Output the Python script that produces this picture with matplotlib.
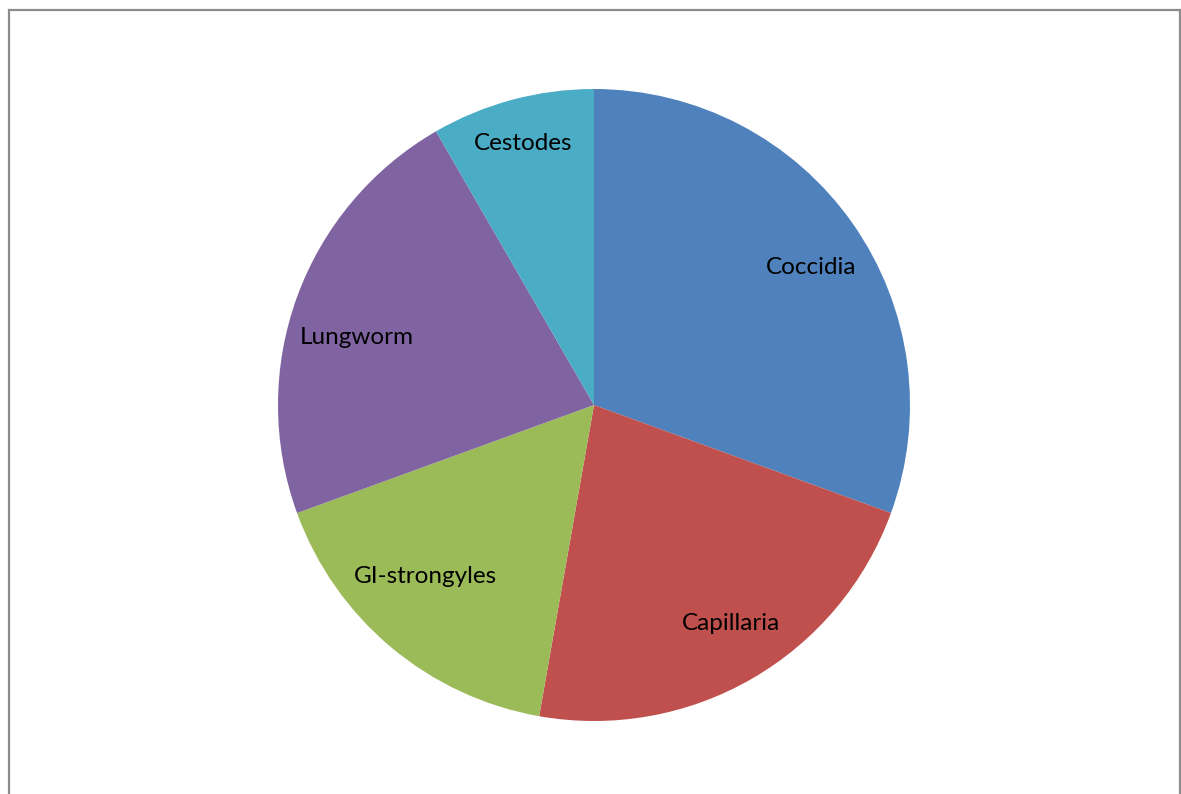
import matplotlib
matplotlib.use("Agg")
import matplotlib.pyplot as plt
from matplotlib.patches import Rectangle
import numpy as np

labels = ["Coccidia", "Capillaria", "GI-strongyles", "Lungworm", "Cestodes"]
counts = [11, 8, 6, 8, 3]
colors = ["#4F81BD", "#C0504D", "#9BBB59", "#8064A2", "#4BACC6"]

# label placement inside each wedge (fraction of radius, angle shift in degrees)
label_r = [0.813, 0.816, 0.76, 0.78, 0.856]
label_shift = [-2.7, 2.2, -4.5, 4.0, 0.2]

W, H = 1181, 794
fig = plt.figure(figsize=(W / 100, H / 100), dpi=100)

# chart area frame (bottom edge falls outside the image)
fig.patches.append(Rectangle((8.5 / W, -0.05), 1171 / W, 1.05 - 10.5 / H,
                             transform=fig.transFigure, fill=False,
                             edgecolor="#8c8c8c", linewidth=1.6))

cx, cy, r = 594, 405, 316
ax = fig.add_axes([(cx - r) / W, (H - cy - r) / H, 2 * r / W, 2 * r / H])
wedges, _ = ax.pie(counts, colors=colors, startangle=90, counterclock=False, radius=1)

for w, lab, lr, sh in zip(wedges, labels, label_r, label_shift):
    mid = np.deg2rad((w.theta1 + w.theta2) / 2 + sh)
    ax.text(lr * np.cos(mid), lr * np.sin(mid), lab, fontsize=17.5, family="Lato",
            color="black", ha="center", va="center")

ax.set_xlim(-1, 1)
ax.set_ylim(-1, 1)
ax.set_aspect("auto")
ax.axis("off")

fig.savefig("out.png", dpi=100)
